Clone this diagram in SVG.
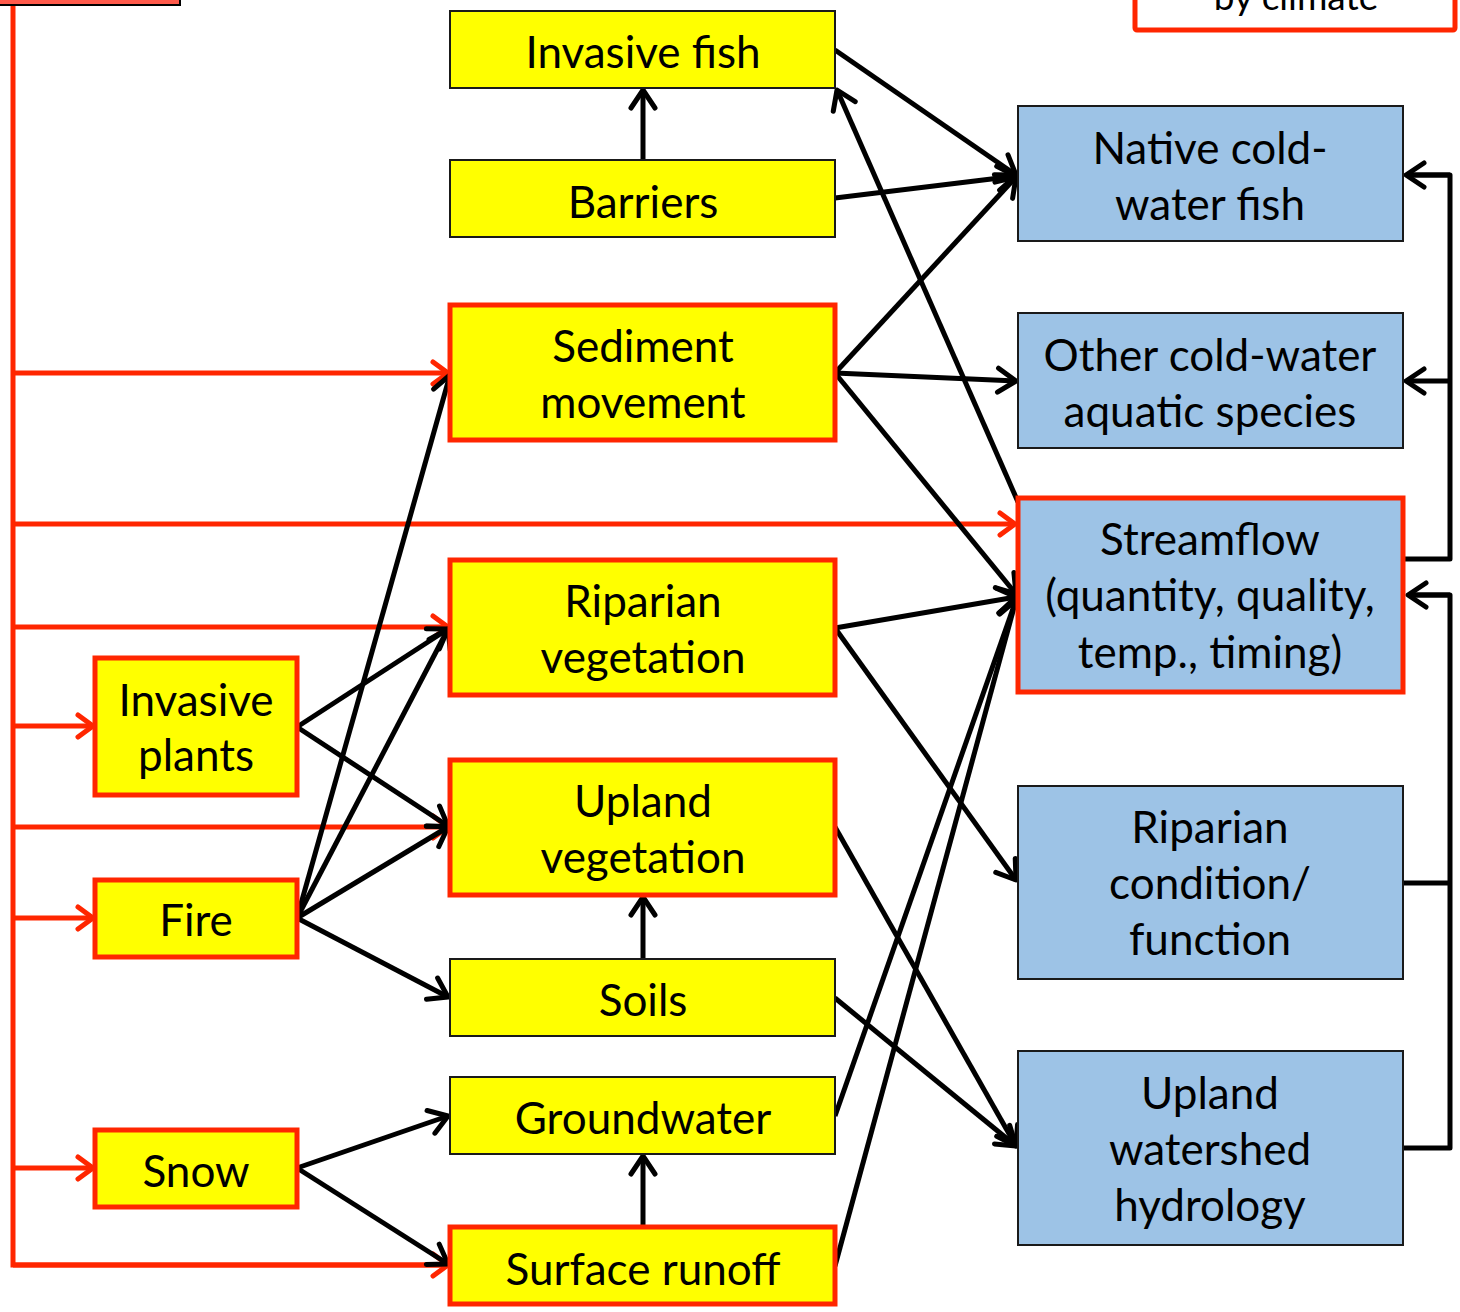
<svg xmlns="http://www.w3.org/2000/svg" width="1460" height="1312" viewBox="0 0 1460 1312">
<defs>
<style>
text{font-family:"Lato","Liberation Sans",sans-serif;font-size:44px;fill:#000;text-anchor:middle}
.y{fill:#FFFF00;stroke:#1a1a1a;stroke-width:2}
.yr{fill:#FFFF00;stroke:#FF2600;stroke-width:5}
.b{fill:#9DC3E6;stroke:#1a1a1a;stroke-width:2}
.br{fill:#9DC3E6;stroke:#FF2600;stroke-width:5}
.k{stroke:#000;stroke-width:5;fill:none;marker-end:url(#ak)}
.kn{stroke:#000;stroke-width:5;fill:none}
.r{stroke:#FF2600;stroke-width:5;fill:none;marker-end:url(#ar)}
.rn{stroke:#FF2600;stroke-width:5;fill:none}
</style>
<marker id="ak" markerUnits="userSpaceOnUse" viewBox="-24 -16 30 32" refX="0" refY="0" markerWidth="30" markerHeight="32" orient="auto" overflow="visible">
<path d="M-18,-12 L0,0 L-18,12" fill="none" stroke="#000" stroke-width="5" stroke-linecap="round" stroke-linejoin="round"/>
</marker>
<marker id="ar" markerUnits="userSpaceOnUse" viewBox="-24 -16 30 32" refX="0" refY="0" markerWidth="30" markerHeight="32" orient="auto" overflow="visible">
<path d="M-15,-11 L0,0 L-15,11" fill="none" stroke="#FF2600" stroke-width="5" stroke-linecap="round" stroke-linejoin="round"/>
</marker>
</defs>
<rect width="1460" height="1312" fill="#fff"/>

<g id="connectors">
<!-- red climate lines -->
<path class="rn" d="M13,0 V1265 H448"/>
<path class="r" d="M13,1265 H448"/>
<path class="r" d="M13,373 H448"/>
<path class="r" d="M13,524 H1015"/>
<path class="r" d="M13,627 H448"/>
<path class="r" d="M13,726 H93"/>
<path class="r" d="M13,827 H448"/>
<path class="r" d="M13,918 H93"/>
<path class="r" d="M13,1168 H93"/>
<!-- black -->
<path class="k" d="M643,159 V90"/>
<path class="k" d="M835,50 L1016,175"/>
<path class="k" d="M835,198 L1016,176"/>
<path class="k" d="M835,373 L1016,177"/>
<path class="k" d="M835,373 L1016,381"/>
<path class="k" d="M835,373 L1016,594"/>
<path class="k" d="M1018,502 L837,90"/>
<path class="k" d="M835,628 L1016,597"/>
<path class="k" d="M835,628 L1016,880"/>
<path class="k" d="M835,827 L1016,1146"/>
<path class="k" d="M835,998 L1016,1146"/>
<path class="k" d="M835,1116 L1016,600"/>
<path class="k" d="M835,1266 L1016,600"/>
<path class="k" d="M643,1226 V1156"/>
<path class="k" d="M643,958 V897"/>
<path class="k" d="M297,727 L448,629"/>
<path class="k" d="M297,727 L448,826"/>
<path class="k" d="M297,918 L450,375"/>
<path class="k" d="M297,918 L448,629"/>
<path class="k" d="M297,918 L448,827"/>
<path class="k" d="M297,918 L448,997"/>
<path class="k" d="M297,1168 L448,1116"/>
<path class="k" d="M297,1168 L448,1264"/>
<!-- right feedback bracket -->
<path class="kn" d="M1400,559 H1450 V175 H1406" stroke-linejoin="round"/>
<path class="k" d="M1450,175 H1406"/>
<path class="k" d="M1450,381 H1406"/>
<path class="kn" d="M1403,883 H1450"/>
<path class="kn" d="M1403,1148 H1450 V595 H1408" stroke-linejoin="round"/>
<path class="k" d="M1450,595 H1408"/>
</g>

<g id="climate-box">
<rect x="-10" y="-50" width="190" height="55" fill="#FF5A4B" stroke="#000" stroke-width="2"/>
</g>
<g id="by-climate">
<rect x="1135" y="-40" width="320" height="70" fill="#fff" stroke="#FF2600" stroke-width="5" rx="2"/>
<text x="1296" y="10" style="font-size:37px">by climate</text>
</g>

<g id="invasive-fish"><rect class="y" x="450" y="11" width="385" height="77"/><text x="643" y="68">Invasive fish</text></g>
<g id="barriers"><rect class="y" x="450" y="160" width="385" height="77"/><text x="643" y="218">Barriers</text></g>
<g id="sediment"><rect class="yr" x="450" y="305" width="385" height="135"/><text x="643" y="362">Sediment</text><text x="643" y="418">movement</text></g>
<g id="riparian-veg"><rect class="yr" x="450" y="560" width="385" height="135"/><text x="643" y="617">Riparian</text><text x="643" y="673">vegetation</text></g>
<g id="upland-veg"><rect class="yr" x="450" y="760" width="385" height="135"/><text x="643" y="817">Upland</text><text x="643" y="873">vegetation</text></g>
<g id="soils"><rect class="y" x="450" y="959" width="385" height="77"/><text x="643" y="1016">Soils</text></g>
<g id="groundwater"><rect class="y" x="450" y="1077" width="385" height="77"/><text x="643" y="1134">Groundwater</text></g>
<g id="surface-runoff"><rect class="yr" x="450" y="1227" width="385" height="77"/><text x="643" y="1285">Surface runoff</text></g>

<g id="invasive-plants"><rect class="yr" x="95" y="658" width="202" height="137"/><text x="196" y="716">Invasive</text><text x="196" y="771">plants</text></g>
<g id="fire"><rect class="yr" x="95" y="880" width="202" height="77"/><text x="196" y="936">Fire</text></g>
<g id="snow"><rect class="yr" x="95" y="1130" width="202" height="77"/><text x="196" y="1187">Snow</text></g>

<g id="native-fish"><rect class="b" x="1018" y="106" width="385" height="135"/><text x="1210" y="164">Native cold-</text><text x="1210" y="220">water fish</text></g>
<g id="other-species"><rect class="b" x="1018" y="313" width="385" height="135"/><text x="1210" y="371">Other cold-water</text><text x="1210" y="427">aquatic species</text></g>
<g id="streamflow"><rect class="br" x="1018" y="498" width="385" height="194"/><text x="1210" y="555">Streamflow</text><text x="1210" y="611">(quantity, quality,</text><text x="1210" y="668">temp., timing)</text></g>
<g id="riparian-cond"><rect class="b" x="1018" y="786" width="385" height="193"/><text x="1210" y="843">Riparian</text><text x="1210" y="899">condition/</text><text x="1210" y="955">function</text></g>
<g id="upland-hydro"><rect class="b" x="1018" y="1051" width="385" height="194"/><text x="1210" y="1109">Upland</text><text x="1210" y="1165">watershed</text><text x="1210" y="1221">hydrology</text></g>
</svg>
